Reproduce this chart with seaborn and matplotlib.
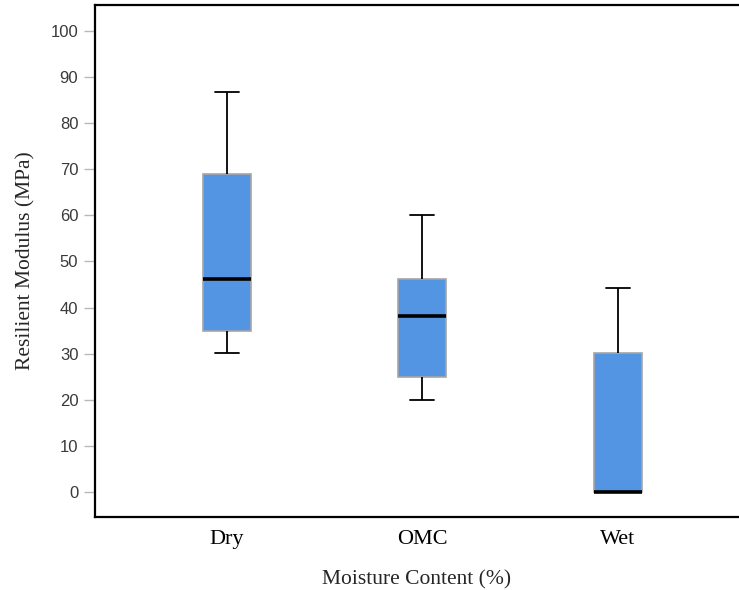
import matplotlib

matplotlib.use("Agg")
import matplotlib.pyplot as plt
import pandas as pd
import seaborn as sns

# five-number summaries (low whisker, Q1, median, Q3, high whisker)
categories = ["Dry", "OMC", "Wet"]
dry_vals = [30.2, 34.9, 46.3, 69.0, 86.8]
omc_vals = [20.0, 25.0, 38.2, 46.2, 60.1]
wet_vals = [0.0, 0.0, 0.0, 30.2, 44.3]
y_ticks = list(range(0, 101, 10))

rows = []
for cat, vals in zip(categories, [dry_vals, omc_vals, wet_vals]):
    for v in vals:
        rows.append({"Moisture": cat, "Mr": v})
df = pd.DataFrame(rows)

sns.set_style("white")
plt.rcParams["font.family"] = ["Liberation Serif", "DejaVu Serif"]

fig = plt.figure(figsize=(7.39, 5.90), dpi=100)
ax = fig.add_axes([95 / 739, 73 / 590, 1 - 95 / 739, 512 / 590])

sns.boxplot(
    data=df, x="Moisture", y="Mr", order=categories, ax=ax,
    width=0.245, color="#5394e3", saturation=1, showfliers=False,
    boxprops=dict(facecolor="#5394e3", edgecolor="#a6a6a6", linewidth=1.2),
    whiskerprops=dict(color="black", linewidth=1.3),
    capprops=dict(color="black", linewidth=1.3),
    medianprops=dict(color="black", linewidth=2.6),
)

ax.set_xlim(-0.675, 2.62)
ax.set_ylim(-5.4, 105.6)
ax.set_yticks(y_ticks)
ax.set_yticklabels([str(t) for t in y_ticks], family="Liberation Sans", color="#3a3a3a", fontsize=12)
ax.tick_params(axis="y", left=True, length=8, width=1, color="#b8b8b8", pad=4)
ax.tick_params(axis="x", bottom=False, labelsize=16, pad=6)
for lbl in ax.get_xticklabels():
    lbl.set_color("black")

for side in ["left", "bottom", "top"]:
    ax.spines[side].set_visible(True)
    ax.spines[side].set_color("black")
    ax.spines[side].set_linewidth(1.6)
ax.spines["right"].set_visible(False)

ax.set_xlabel("Moisture Content (%)", fontsize=15.5, labelpad=15)
ax.set_ylabel("Resilient Modulus (MPa)", fontsize=15.5, labelpad=11)

fig.savefig("out.png", dpi=100)
